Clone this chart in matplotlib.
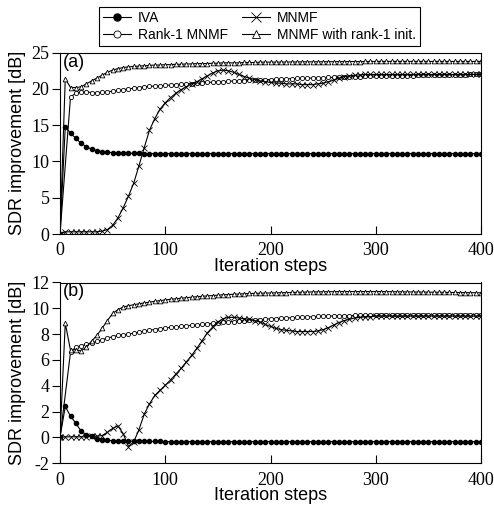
import numpy as np
import matplotlib
matplotlib.use("Agg")
import matplotlib.pyplot as plt

plt.rcParams["axes.unicode_minus"] = False

# iteration steps (markers every 5 steps; rank-1 MNMF has no marker at step 5)
steps = np.arange(0, 401, 5)
steps_r1 = np.r_[0, np.arange(10, 401, 5)]

# ---- panel (a) ----
iva_a = [0.0, 14.8, 13.9, 13.2, 12.5, 12.05, 11.7, 11.5, 11.37, 11.28,
         11.22, 11.18, 11.15, 11.13, 11.12, 11.11, 11.1, 11.1, 11.1, 11.1,
         11.1, 11.1, 11.1, 11.1, 11.1, 11.1, 11.1, 11.1, 11.1, 11.1,
         11.1, 11.1, 11.1, 11.1, 11.1, 11.1, 11.1, 11.1, 11.1, 11.1,
         11.1, 11.1, 11.1, 11.1, 11.1, 11.1, 11.1, 11.1, 11.1, 11.1,
         11.1, 11.1, 11.1, 11.1, 11.1, 11.1, 11.1, 11.1, 11.1, 11.1,
         11.1, 11.1, 11.1, 11.1, 11.1, 11.1, 11.1, 11.1, 11.1, 11.1,
         11.1, 11.1, 11.1, 11.1, 11.1, 11.1, 11.1, 11.1, 11.1, 11.1,
         11.1]
rank1_a = [0.0, 18.9, 19.4, 19.6, 19.6, 19.5, 19.5, 19.55, 19.6, 19.7,
           19.8, 19.9, 20.0, 20.1, 20.2, 20.3, 20.35, 20.4, 20.45, 20.5,
           20.55, 20.6, 20.65, 20.7, 20.75, 20.8, 20.85, 20.9, 20.95, 21.0,
           21.0, 21.05, 21.1, 21.1, 21.15, 21.2, 21.2, 21.25, 21.3, 21.3,
           21.35, 21.35, 21.4, 21.4, 21.45, 21.45, 21.5, 21.5, 21.55, 21.55,
           21.6, 21.6, 21.65, 21.65, 21.7, 21.7, 21.7, 21.75, 21.75, 21.8,
           21.8, 21.8, 21.8, 21.85, 21.85, 21.85, 21.85, 21.9, 21.9, 21.9,
           21.9, 21.9, 21.9, 21.95, 21.95, 21.95, 21.95, 22.0, 22.0, 22.0]
mnmf_a = [0.0, 0.3, 0.3, 0.3, 0.3, 0.3, 0.3, 0.3, 0.4, 0.6,
          1.2, 2.2, 3.6, 5.2, 7.0, 9.4, 11.9, 14.3, 15.9, 17.2,
          18.1, 18.8, 19.4, 19.9, 20.3, 20.7, 21.0, 21.4, 21.8, 22.2,
          22.5, 22.6, 22.5, 22.3, 22.0, 21.7, 21.5, 21.3, 21.1, 21.0,
          20.9, 20.8, 20.8, 20.7, 20.7, 20.7, 20.6, 20.6, 20.6, 20.7,
          20.8, 21.0, 21.2, 21.5, 21.7, 21.8, 21.9, 21.95, 22.0, 22.0,
          22.0, 22.0, 22.0, 22.0, 22.0, 22.0, 22.0, 22.0, 22.0, 22.0,
          22.0, 22.0, 22.0, 22.0, 22.0, 22.0, 22.0, 22.0, 22.0, 22.0,
          22.0]
init_a = [0.0, 21.4, 20.2, 20.2, 20.3, 20.7, 21.1, 21.5, 21.9, 22.3,
          22.6, 22.8, 22.95, 23.05, 23.1, 23.15, 23.2, 23.25, 23.3, 23.3,
          23.35, 23.35, 23.4, 23.4, 23.45, 23.45, 23.5, 23.5, 23.5, 23.55,
          23.55, 23.6, 23.6, 23.6, 23.6, 23.65, 23.65, 23.65, 23.7, 23.7,
          23.7, 23.7, 23.7, 23.72, 23.72, 23.72, 23.74, 23.74, 23.74, 23.75,
          23.75, 23.76, 23.76, 23.77, 23.77, 23.78, 23.78, 23.78, 23.79, 23.79,
          23.8, 23.8, 23.8, 23.8, 23.8, 23.8, 23.8, 23.8, 23.8, 23.8,
          23.8, 23.8, 23.8, 23.8, 23.8, 23.8, 23.8, 23.8, 23.8, 23.8,
          23.8]

# ---- panel (b) ----
iva_b = [0.0, 2.4, 1.65, 1.1, 0.5, 0.22, 0.08, -0.08, -0.17, -0.22,
         -0.25, -0.27, -0.28, -0.29, -0.3, -0.3, -0.31, -0.31, -0.31, -0.31,
         -0.32, -0.32, -0.32, -0.32, -0.32, -0.32, -0.32, -0.32, -0.32, -0.32,
         -0.32, -0.32, -0.32, -0.32, -0.32, -0.32, -0.32, -0.32, -0.32, -0.32,
         -0.32, -0.32, -0.32, -0.32, -0.32, -0.32, -0.32, -0.32, -0.32, -0.32,
         -0.32, -0.32, -0.32, -0.32, -0.32, -0.32, -0.32, -0.32, -0.32, -0.32,
         -0.32, -0.32, -0.32, -0.32, -0.32, -0.32, -0.32, -0.32, -0.32, -0.32,
         -0.32, -0.32, -0.32, -0.32, -0.32, -0.32, -0.32, -0.32, -0.32, -0.32,
         -0.32]
rank1_b = [0.0, 6.6, 7.0, 7.1, 7.2, 7.3, 7.45, 7.55, 7.7, 7.8,
           7.9, 7.95, 8.0, 8.08, 8.15, 8.22, 8.3, 8.36, 8.42, 8.48,
           8.52, 8.56, 8.6, 8.65, 8.68, 8.72, 8.76, 8.8, 8.84, 8.88,
           8.92, 8.95, 8.98, 9.01, 9.04, 9.07, 9.1, 9.13, 9.16, 9.19,
           9.21, 9.23, 9.25, 9.27, 9.29, 9.31, 9.33, 9.35, 9.37, 9.39,
           9.4, 9.41, 9.42, 9.43, 9.44, 9.45, 9.45, 9.46, 9.46, 9.47,
           9.47, 9.48, 9.48, 9.48, 9.49, 9.49, 9.49, 9.5, 9.5, 9.5,
           9.5, 9.5, 9.5, 9.5, 9.5, 9.5, 9.5, 9.5, 9.5, 9.5]
mnmf_b = [0.0, 0.05, 0.05, 0.05, 0.05, 0.05, 0.08, 0.1, 0.15, 0.4,
          0.7, 0.9, 0.3, -0.7, -0.35, 0.6, 1.8, 2.6, 3.25, 3.65,
          4.05, 4.45, 4.9, 5.35, 5.85, 6.35, 6.9, 7.5, 8.1, 8.55,
          8.95, 9.2, 9.3, 9.3, 9.25, 9.2, 9.15, 9.05, 8.95, 8.75,
          8.6, 8.45, 8.35, 8.3, 8.25, 8.2, 8.2, 8.2, 8.2, 8.25,
          8.35, 8.5, 8.7, 8.9, 9.05, 9.15, 9.25, 9.3, 9.35, 9.35,
          9.4, 9.4, 9.4, 9.4, 9.4, 9.4, 9.4, 9.4, 9.4, 9.4,
          9.4, 9.4, 9.4, 9.4, 9.4, 9.4, 9.4, 9.4, 9.4, 9.4,
          9.4]
init_b = [0.0, 8.85, 6.75, 6.8, 6.7, 7.0, 7.45, 7.9, 8.45, 9.05,
          9.6, 9.9, 10.1, 10.2, 10.28, 10.35, 10.42, 10.48, 10.54, 10.6,
          10.65, 10.7, 10.74, 10.78, 10.82, 10.86, 10.9, 10.93, 10.96, 10.99,
          11.02, 11.05, 11.07, 11.09, 11.11, 11.13, 11.15, 11.16, 11.17, 11.18,
          11.19, 11.2, 11.21, 11.22, 11.23, 11.24, 11.25, 11.26, 11.27, 11.28,
          11.28, 11.29, 11.29, 11.3, 11.3, 11.3, 11.3, 11.3, 11.3, 11.3,
          11.3, 11.3, 11.29, 11.29, 11.28, 11.28, 11.27, 11.27, 11.26, 11.26,
          11.25, 11.25, 11.24, 11.24, 11.23, 11.23, 11.22, 11.22, 11.21, 11.21,
          11.2]

serif = "Liberation Serif"
sans = "Liberation Sans"

fig = plt.figure(figsize=(4.94, 5.08), dpi=100)
ax_a = fig.add_axes([60 / 494, 1 - 234 / 508, 421 / 494, 181.3 / 508])
ax_b = fig.add_axes([60 / 494, 1 - 463.3 / 508, 421 / 494, 180.8 / 508])

line_kw = dict(color="black", lw=0.8)


def draw_panel(ax, iva, rank1, mnmf, init, ylim, yticks, tag):
    ax.plot(steps, iva, marker="o", ms=3.0, mfc="black", mec="black", label="IVA", **line_kw)
    ax.plot(steps_r1, rank1, marker="o", ms=3.0, mfc="white", mec="black", mew=0.6,
            label="Rank-1 MNMF", **line_kw)
    ax.plot(steps, init, marker="^", ms=3.4, mfc="white", mec="black", mew=0.6,
            label="MNMF with rank-1 init.", **line_kw)
    ax.plot(steps, mnmf, marker="x", ms=4.0, mec="black", mew=0.6, label="MNMF", **line_kw)
    ax.set_xlim(0, 400)
    ax.set_ylim(*ylim)
    ax.set_xticks([0, 100, 200, 300, 400])
    ax.set_yticks(yticks)
    ax.tick_params(axis="x", direction="in", length=6, width=0.8, pad=6)
    ax.tick_params(axis="y", direction="out", length=6, width=0.8, pad=1.5)
    for lab in ax.get_xticklabels() + ax.get_yticklabels():
        lab.set_fontfamily(serif)
        lab.set_fontsize(13)
    for sp in ax.spines.values():
        sp.set_linewidth(0.8)
    ax.set_xlabel("Iteration steps", fontfamily=sans, fontsize=13, labelpad=-1)
    ax.set_ylabel("SDR improvement [dB]", fontfamily=sans, fontsize=13)
    ax.yaxis.set_label_coords(-0.08, 0.5)
    ax.text(0.008, 0.995, tag, transform=ax.transAxes, ha="left", va="top",
            fontfamily=sans, fontsize=13)


draw_panel(ax_a, iva_a, rank1_a, mnmf_a, init_a, (0, 25), [0, 5, 10, 15, 20, 25], "(a)")
draw_panel(ax_b, iva_b, rank1_b, mnmf_b, init_b, (-2, 12), [-2, 0, 2, 4, 6, 8, 10, 12], "(b)")

handles, labels = ax_a.get_legend_handles_labels()
order = [0, 1, 3, 2]
leg = fig.legend([handles[i] for i in order], [labels[i] for i in order],
                 ncol=2, loc="upper left", bbox_to_anchor=(99 / 494, 1 - 7 / 508),
                 frameon=True, fancybox=False, edgecolor="black", framealpha=1,
                 prop={"family": sans, "size": 10}, markerscale=1.7,
                 handlelength=2.0, handletextpad=0.5, columnspacing=1.0,
                 borderpad=0.3, labelspacing=0.2, borderaxespad=0)
leg.get_frame().set_linewidth(0.8)

fig.savefig("out.png", dpi=100)
